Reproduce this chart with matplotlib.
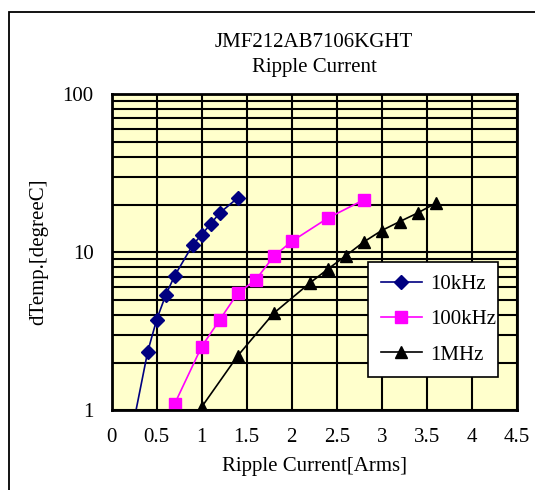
import matplotlib.pyplot as plt
from matplotlib.patches import Rectangle
from matplotlib.ticker import LogLocator, NullFormatter, FixedLocator

plt.rcParams['font.family'] = ['Liberation Serif', 'DejaVu Serif']

# ripple current [Arms] vs temperature rise [degC]
i_10k = [0.2, 0.4, 0.5, 0.6, 0.7, 0.9, 1.0, 1.1, 1.2, 1.4]
t_10k = [0.63, 2.35, 3.75, 5.35, 7.1, 11.1, 12.9, 15.1, 17.7, 22.0]

i_100k = [0.7, 1.0, 1.2, 1.4, 1.6, 1.8, 2.0, 2.4, 2.8]
t_100k = [1.1, 2.53, 3.73, 5.5, 6.68, 9.4, 11.7, 16.4, 21.4]

i_1m = [1.0, 1.4, 1.8, 2.2, 2.4, 2.6, 2.8, 3.0, 3.2, 3.4, 3.6]
t_1m = [1.05, 2.21, 4.11, 6.37, 7.8, 9.48, 11.6, 13.7, 15.6, 17.7, 20.4]

x_ticks = [0, 0.5, 1, 1.5, 2, 2.5, 3, 3.5, 4, 4.5]
x_tick_labels = ['0', '0.5', '1', '1.5', '2', '2.5', '3', '3.5', '4', '4.5']

W, H = 535, 490
fig = plt.figure(figsize=(W / 100, H / 100), dpi=100)
ax = fig.add_axes([111.7 / W, 1 - 410.3 / H, 405 / W, 316.3 / H])
ax.set_facecolor('#FFFFCC')

# outer chart frame (runs off the right/bottom edges)
fig.patches.append(Rectangle((9 / W, -0.1), 1.1, 1 - 12 / H + 0.1,
                             transform=fig.transFigure, fill=False,
                             edgecolor='black', linewidth=1.3))

ax.plot(i_10k, t_10k, color='#000080', marker='D', markersize=7,
        linewidth=1.2, label='10kHz')
ax.plot(i_100k, t_100k, color='#FF00FF', marker='s', markersize=8,
        linewidth=1.2, label='100kHz')
ax.plot(i_1m, t_1m, color='black', marker='^', markersize=8.5,
        linewidth=1.2, label='1MHz')

ax.set_yscale('log')
ax.set_ylim(1, 100)
ax.set_xlim(0, 4.5)
ax.xaxis.set_major_locator(FixedLocator(x_ticks))
ax.set_xticklabels(x_tick_labels)
ax.set_yticks([1, 10, 100])
ax.set_yticklabels(['1', '10', '100'])
ax.yaxis.set_minor_locator(LogLocator(base=10, subs=range(2, 10)))
ax.yaxis.set_minor_formatter(NullFormatter())

ax.grid(True, which='both', axis='y', color='black', linewidth=1.5)
ax.grid(True, which='major', axis='x', color='black', linewidth=1.5)
ax.set_axisbelow(True)
ax.tick_params(which='both', length=0, labelsize=15, pad=13)
for s in ax.spines.values():
    s.set_linewidth(2)

ax.set_xlabel('Ripple Current[Arms]', fontsize=15, labelpad=7)
ax.set_ylabel('dTemp.[degreeC]', fontsize=15, labelpad=10)
fig.text(314 / W, 1 - 55 / H, 'JMF212AB7106KGHT\nRipple Current',
         ha='center', va='center', fontsize=15, linespacing=1.4)

leg = ax.legend(loc='lower left', bbox_to_anchor=(0.633, 0.105, 0.321, 0.339),
                mode='expand', fontsize=15, fancybox=False, framealpha=1,
                edgecolor='black', borderaxespad=0, handlelength=2.0,
                handletextpad=0.4, labelspacing=0.75, borderpad=0.6)
leg.get_frame().set_linewidth(1.2)

fig.savefig('out.png', dpi=100)
